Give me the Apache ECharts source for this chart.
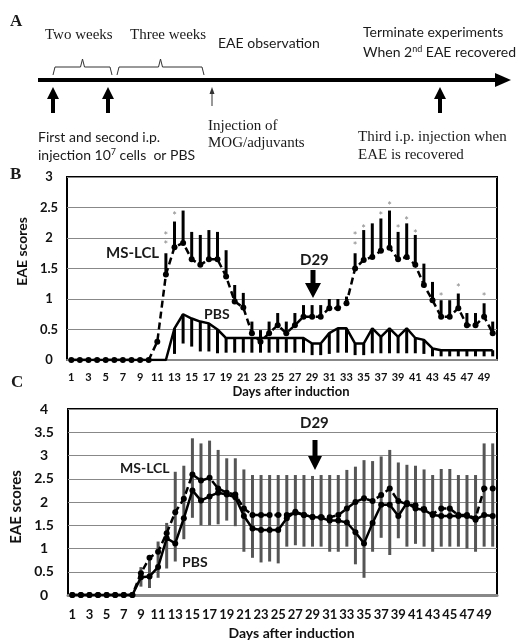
<!DOCTYPE html>
<html>
<head>
<meta charset="utf-8">
<script src="https://cdn.jsdelivr.net/npm/echarts@6/dist/echarts.min.js"></script>
<style>
html, body { margin: 0; padding: 0; background: #fff; }
#main { width: 519px; height: 642px; }
</style>
</head>
<body>
<div id="main"></div>
<script>
var days = ['1','2','3','4','5','6','7','8','9','10','11','12','13','14','15','16','17','18','19','20',
    '21','22','23','24','25','26','27','28','29','30','31','32','33','34','35','36','37','38','39','40',
    '41','42','43','44','45','46','47','48','49','50'];

// panel B - mean scores and one-sided error ends
var bMs = [0,0,0,0,0,0,0,0,0,0, 0.3,1.4,1.85,1.92,1.65,1.56,1.65,1.65,1.37,0.96,
    0.86,0.44,0.3,0.44,0.57,0.44,0.57,0.71,0.71,0.71, 0.85,0.85,0.93,1.5,1.64,1.69,1.79,1.84,1.65,1.69,
    1.56,1.23,0.98,0.71,0.71,0.85,0.57,0.57,0.71,0.44];
var bMsTop = [0,0,0,0,0,0,0,0,0,0, 0.3,1.75,2.27,2.45,2.1,2.05,2.13,2.1,1.8,1.23,
    1.1,0.63,0.49,0.63,0.77,0.63,0.77,0.9,0.9,0.9, 1.0,1.0,1.04,1.75,2.13,2.24,2.32,2.45,2.1,2.24,
    2.05,1.58,1.28,0.98,0.98,1.09,0.77,0.77,0.93,0.63];
var bPbs = [0,0,0,0,0,0,0,0,0,0, 0,0,0.52,0.75,0.68,0.63,0.6,0.5,0.36,0.36,
    0.36,0.36,0.36,0.36,0.36,0.36,0.36,0.36,0.27,0.27, 0.44,0.52,0.52,0.27,0.27,0.52,0.38,0.52,0.38,0.52,
    0.36,0.33,0.19,0.16,0.16,0.16,0.16,0.16,0.16,0.16];
var bPbsLow = [0,0,0,0,0,0,0,0,0,0, 0,0,0.1,0.27,0.22,0.14,0.14,0.11,0.12,0.12,
    0.12,0.12,0.12,0.12,0.12,0.12,0.12,0.12,0.08,0.08, 0.1,0.12,0.12,0.08,0.08,0.11,0.11,0.11,0.11,0.11,
    0.11,0.1,0.06,0.06,0.06,0.06,0.06,0.06,0.06,0.06];
var starDay = [12, 12, 13, 34, 34, 35, 37, 38, 39, 40, 41, 44, 46, 49];
var starValue = [1.92, 2.07, 2.41, 1.91, 2.07, 2.19, 2.4, 2.57, 2.19, 2.32, 2.1, 1.08, 1.23, 1.08];

// panel C - mean scores and error bar ends
var cMs = [0,0,0,0,0,0,0,0, 0.47,0.8,0.93,1.33,1.78,2.07,2.59,2.46,2.52,2.29,2.2,2.16,
    1.86,1.72,1.72,1.72,1.72,1.72,1.77,1.72,1.68,1.68, 1.67,1.72,1.86,2.0,2.08,2.02,2.15,2.29,2.02,1.95,
    1.93,1.85,1.74,1.86,1.86,1.72,1.72,1.65,2.29,2.29];
var cPbs = [0,0,0,0,0,0,0,0, 0.38,0.4,0.6,1.22,1.11,1.65,2.25,2.03,2.12,2.2,2.16,2.1,
    1.7,1.43,1.4,1.4,1.4,1.65,1.79,1.72,1.68,1.66, 1.6,1.6,1.56,1.35,1.11,1.55,1.94,1.94,1.7,1.98,
    1.86,1.83,1.72,1.7,1.7,1.7,1.7,1.62,1.72,1.7];
var cErrLow = [0,0,0,0,0,0,0,0, 0.18,0.15,0.37,0.57,0.72,1.2,1.66,1.5,1.5,1.52,1.6,1.48,
    0.93,0.8,0.7,0.72,0.68,1.04,1.07,1.04,1.04,1.04, 0.93,0.93,1.04,0.66,0.37,0.93,1.23,0.86,1.22,1.04,
    1.1,1.04,0.93,1.04,1.04,1.04,1.0,0.93,1.04,1.04];
var cErrHigh = [0,0,0,0,0,0,0,0, 0.6,0.75,1.15,1.55,2.65,2.78,3.37,3.26,3.32,3.12,2.94,2.94,
    2.7,2.58,2.58,2.58,2.58,2.58,2.58,2.58,2.56,2.58, 2.58,2.58,2.69,2.76,2.9,2.88,2.98,3.12,2.85,2.8,
    2.78,2.7,2.58,2.71,2.71,2.58,2.58,2.58,3.26,3.26];

var SANS = 'Lato';
var SERIF = 'Liberation Serif';

function rows(a, b) {
    return days.map(function (d, i) { return [i, a[i], b[i]]; });
}

function errBar(color, width) {
    return function (params, api) {
        var p1 = api.coord([api.value(0), api.value(1)]);
        var p2 = api.coord([api.value(0), api.value(2)]);
        return {
            type: 'line',
            shape: { x1: p1[0], y1: p1[1], x2: p2[0], y2: p2[1] },
            style: { stroke: color, lineWidth: width }
        };
    };
}

function txt(x, y, s, size, family, weight, extra) {
    var st = {
        text: s, fontSize: size, fontFamily: family, fontWeight: weight || 'normal',
        fill: '#1a1a1a', align: 'left', verticalAlign: 'middle',
        textAlign: 'left', textVerticalAlign: 'middle'
    };
    if (extra) { for (var k in extra) st[k] = extra[k]; }
    return { type: 'text', x: x, y: y, style: st, z: 10 };
}

function upArrow(x, yTail, yTip, shaft, head, headLen) {
    return {
        type: 'polygon', z: 10,
        shape: { points: [[x - shaft, yTail], [x + shaft, yTail], [x + shaft, yTip + headLen],
            [x + head, yTip + headLen], [x, yTip], [x - head, yTip + headLen], [x - shaft, yTip + headLen]] },
        style: { fill: '#000' }
    };
}

function downArrow(x, yTail, yTip, shaft, head, headLen) {
    return {
        type: 'polygon', z: 10,
        shape: { points: [[x - shaft, yTail], [x + shaft, yTail], [x + shaft, yTip - headLen],
            [x + head, yTip - headLen], [x, yTip], [x - head, yTip - headLen], [x - shaft, yTip - headLen]] },
        style: { fill: '#000' }
    };
}

function bracket(x1, x2, y) {
    var m = (x1 + x2) / 2;
    return {
        type: 'polyline', z: 10,
        shape: { points: [[x1, y + 8], [x1 + 2, y], [m - 2, y], [m, y - 8], [m + 2, y], [x2 - 2, y], [x2, y + 8]] },
        style: { stroke: '#333', lineWidth: 1, fill: null }
    };
}

var supRich = { s: { fontSize: 9, verticalAlign: 'top', fontFamily: SANS, fill: '#1a1a1a' } };

var graphics = [
    txt(10, 22, 'A', 17, SERIF, 'bold'),
    txt(45, 35, 'Two weeks', 15, SERIF),
    txt(130, 35, 'Three weeks', 15, SERIF),
    txt(218, 43, 'EAE observation', 14, SANS),
    txt(363, 32, 'Terminate experiments', 14, SANS),
    txt(363, 52, 'When 2{s|nd} EAE recovered', 14, SANS, 'normal', { rich: supRich }),
    bracket(53, 112, 67),
    bracket(117, 204, 67),
    { type: 'line', z: 10, shape: { x1: 38, y1: 80, x2: 498, y2: 80 }, style: { stroke: '#000', lineWidth: 4 } },
    { type: 'polygon', z: 10, shape: { points: [[495, 73], [511, 80], [495, 87]] }, style: { fill: '#000' } },
    upArrow(53, 113, 87, 2, 6, 12),
    upArrow(108, 113, 87, 2, 6, 12),
    upArrow(440, 113, 87, 2, 6, 12),
    { type: 'line', z: 10, shape: { x1: 212, y1: 106, x2: 212, y2: 92 }, style: { stroke: '#333', lineWidth: 1 } },
    { type: 'polygon', z: 10, shape: { points: [[209.5, 94], [212, 87], [214.5, 94]] }, style: { fill: '#333' } },
    txt(38, 137, 'First and second i.p.', 14, SANS),
    txt(38, 155, 'injection 10{s|7} cells  or PBS', 14, SANS, 'normal', { rich: supRich }),
    txt(208, 126, 'Injection of', 15, SERIF),
    txt(208, 143, 'MOG/adjuvants', 15, SERIF),
    txt(358, 137, 'Third i.p. injection when', 15, SERIF),
    txt(358, 155, 'EAE is recovered', 15, SERIF),

    txt(10, 175, 'B', 17, SERIF, 'bold'),
    txt(106, 253, 'MS-LCL', 15, SANS, 'bold'),
    txt(204, 314, 'PBS', 14, SANS, 'bold'),
    txt(300, 260, 'D29', 15, SANS, 'bold'),
    downArrow(313, 270, 298, 2.5, 8, 15),

    txt(11, 383, 'C', 17, SERIF, 'bold'),
    txt(120, 468, 'MS-LCL', 14, SANS, 'bold'),
    txt(182, 562, 'PBS', 14, SANS, 'bold'),
    txt(300, 423, 'D29', 15, SANS, 'bold'),
    downArrow(315, 440, 470, 2.5, 7, 14)
];

var chart = echarts.init(document.getElementById('main'));

chart.setOption({
    backgroundColor: '#fff',
    animation: false,
    graphic: graphics,
    grid: [
        { left: 67, top: 177, width: 430, height: 183, show: true, borderColor: '#000', borderWidth: 2, backgroundColor: 'transparent' },
        { left: 68, top: 409, width: 429, height: 186, show: true, borderColor: '#000', borderWidth: 2, backgroundColor: 'transparent' }
    ],
    xAxis: [
        {
            type: 'category', gridIndex: 0, data: days, boundaryGap: true,
            axisLine: { lineStyle: { color: '#888', width: 2 } },
            axisTick: { show: false },
            axisLabel: { interval: 1, margin: 12, fontSize: 11, fontWeight: 'bold', fontFamily: SANS, color: '#111' },
            name: 'Days after induction', nameLocation: 'middle', nameGap: 25,
            nameTextStyle: { fontSize: 13, fontWeight: 'bold', fontFamily: SANS, color: '#111', padding: [0, 0, 0, 18] }
        },
        {
            type: 'category', gridIndex: 1, data: days, boundaryGap: true,
            axisLine: { lineStyle: { color: '#888', width: 3 } },
            axisTick: { show: false },
            axisLabel: { interval: 1, margin: 13, fontSize: 13, fontWeight: 'bold', fontFamily: SANS, color: '#111' },
            name: 'Days after induction', nameLocation: 'middle', nameGap: 31,
            nameTextStyle: { fontSize: 14, fontWeight: 'bold', fontFamily: SANS, color: '#111', padding: [0, 0, 0, 18] }
        }
    ],
    yAxis: [
        {
            type: 'value', gridIndex: 0, min: 0, max: 3, interval: 0.5,
            axisLine: { show: false }, axisTick: { show: false },
            splitLine: { lineStyle: { color: '#888', width: 1 } },
            axisLabel: { margin: 18, align: 'center', fontSize: 13, fontWeight: 'bold', fontFamily: SANS, color: '#111' },
            name: 'EAE scores', nameLocation: 'middle', nameGap: 32,
            nameTextStyle: { fontSize: 14, fontWeight: 'bold', fontFamily: SANS, color: '#111', padding: [0, 0, 0, 34] }
        },
        {
            type: 'value', gridIndex: 1, min: 0, max: 4, interval: 0.5,
            axisLine: { show: false }, axisTick: { show: false },
            splitLine: { lineStyle: { color: '#888', width: 1 } },
            axisLabel: { margin: 24, align: 'center', fontSize: 14, fontWeight: 'bold', fontFamily: SANS, color: '#111' },
            name: 'EAE scores', nameLocation: 'middle', nameGap: 43,
            nameTextStyle: { fontSize: 15, fontWeight: 'bold', fontFamily: SANS, color: '#111', padding: [0, 10, 0, 0] }
        }
    ],
    series: [
        {
            name: 'MS-LCL error', type: 'custom', xAxisIndex: 0, yAxisIndex: 0,
            renderItem: errBar('#000', 3), data: rows(bMs, bMsTop), z: 2, silent: true
        },
        {
            name: 'PBS error', type: 'custom', xAxisIndex: 0, yAxisIndex: 0,
            renderItem: errBar('#000', 3), data: rows(bPbs, bPbsLow), z: 2, silent: true
        },
        {
            name: 'MS-LCL', type: 'line', xAxisIndex: 0, yAxisIndex: 0, data: bMs,
            symbol: 'circle', symbolSize: 6, showAllSymbol: true,
            lineStyle: { color: '#000', width: 2.5, type: [7, 4] },
            itemStyle: { color: '#000' }, z: 3
        },
        {
            name: 'PBS', type: 'line', xAxisIndex: 0, yAxisIndex: 0, data: bPbs,
            symbol: 'none', lineStyle: { color: '#000', width: 2.5 }, z: 3
        },
        {
            name: 'significance', type: 'scatter', xAxisIndex: 0, yAxisIndex: 0,
            data: starDay.map(function (d, i) { return [d - 1, starValue[i]]; }),
            symbolSize: 1, itemStyle: { color: 'rgba(0,0,0,0)' },
            label: { show: true, formatter: '*', position: 'inside', offset: [0, 3], fontSize: 11, color: '#666', fontFamily: SANS },
            z: 4, silent: true
        },
        {
            name: 'error C', type: 'custom', xAxisIndex: 1, yAxisIndex: 1,
            renderItem: errBar('#555', 3), data: rows(cErrLow, cErrHigh), z: 2, silent: true
        },
        {
            name: 'MS-LCL C', type: 'line', xAxisIndex: 1, yAxisIndex: 1, data: cMs,
            symbol: 'circle', symbolSize: 6, showAllSymbol: true,
            lineStyle: { color: '#000', width: 2.5, type: [7, 4] },
            itemStyle: { color: '#000' }, z: 3
        },
        {
            name: 'PBS C', type: 'line', xAxisIndex: 1, yAxisIndex: 1, data: cPbs,
            symbol: 'circle', symbolSize: 6, showAllSymbol: true,
            lineStyle: { color: '#000', width: 2.5 },
            itemStyle: { color: '#000' }, z: 3
        }
    ]
});
</script>
</body>
</html>
